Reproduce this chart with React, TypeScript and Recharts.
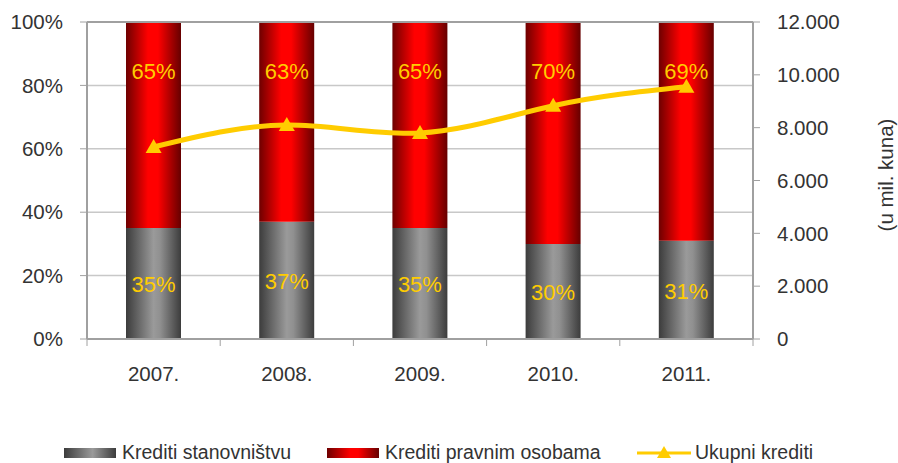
import { ComposedChart, Bar, Line, XAxis, YAxis, CartesianGrid, ReferenceLine, LabelList } from "recharts";

const years = ["2007.", "2008.", "2009.", "2010.", "2011."];
const stanovnistvo = [35, 37, 35, 30, 31];
const pravneOsobe = [65, 63, 65, 70, 69];
const ukupniKrediti = [7270, 8100, 7800, 8830, 9550];
const percentTicks = [0, 20, 40, 60, 80, 100];
const amountTicks = [0, 2000, 4000, 6000, 8000, 10000, 12000];

const data = years.map((year, i) => ({
  year,
  stanovnistvo: stanovnistvo[i],
  pravne: pravneOsobe[i],
  ukupno: ukupniKrediti[i],
}));

const FONT = '"Liberation Sans", Arial, sans-serif';
const W = 898;
const H = 463;
const PLOT_LEFT = 87;
const PLOT_RIGHT = 753;
const PLOT_BOTTOM = 339;
const BAND = (PLOT_RIGHT - PLOT_LEFT) / years.length;
const AXIS_GRAY = "#A0A0A0";
const YELLOW = "#FFCC00";

const formatAmount = (v: number) =>
  v >= 1000 ? `${Math.floor(v / 1000)}.${String(v % 1000).padStart(3, "0")}` : String(v);

const XTick = (props: any) => {
  const { x, payload, index } = props;
  return (
    <g>
      <line x1={x - BAND / 2} x2={x - BAND / 2} y1={PLOT_BOTTOM} y2={PLOT_BOTTOM + 7} stroke={AXIS_GRAY} />
      {index === years.length - 1 && (
        <line x1={x + BAND / 2} x2={x + BAND / 2} y1={PLOT_BOTTOM} y2={PLOT_BOTTOM + 7} stroke={AXIS_GRAY} />
      )}
      <text x={x} y={PLOT_BOTTOM + 42} textAnchor="middle" fill="#333" fontSize={20.5} fontFamily={FONT}>
        {payload.value}
      </text>
    </g>
  );
};

const Triangle = (props: any) => {
  const { cx, cy } = props;
  if (cx == null || cy == null) return null;
  return <polygon points={`${cx},${cy - 8} ${cx - 8},${cy + 6} ${cx + 8},${cy + 6}`} fill={YELLOW} />;
};

const GrayLabel = (props: any) => {
  const { x, y, width, height, value } = props;
  return (
    <text x={x + width / 2} y={y + height / 2 + 1} dy="0.35em" textAnchor="middle" fill={YELLOW} fontSize={22} fontFamily={FONT}>
      {value}%
    </text>
  );
};

const RedLabel = (props: any) => {
  const { x, y, width, value } = props;
  return (
    <text x={x + width / 2} y={y + 49} dy="0.35em" textAnchor="middle" fill={YELLOW} fontSize={22} fontFamily={FONT}>
      {value}%
    </text>
  );
};

const UnitLabel = () => (
  <text transform="translate(886,175) rotate(-90)" textAnchor="middle" dy="0.35em" fill="#333" fontSize={20.5} fontFamily={FONT}>
    (u mil. kuna)
  </text>
);

const legendText = { position: "absolute" as const, top: 442, fontSize: 19.5, fontFamily: FONT, color: "#333", lineHeight: "20px", whiteSpace: "nowrap" as const };

export default function App() {
  return (
    <div style={{ position: "absolute", left: 0, top: 0, width: W, height: H, background: "#fff", overflow: "hidden" }}>
      <ComposedChart width={W} height={H} data={data} margin={{ top: 22, right: 70, bottom: 80, left: 0 }}>
        <defs>
          <linearGradient id="grayGrad" x1="0" y1="0" x2="1" y2="0">
            <stop offset="0%" stopColor="#3c3c3c" />
            <stop offset="50%" stopColor="#9a9a9a" />
            <stop offset="62%" stopColor="#909090" />
            <stop offset="100%" stopColor="#3c3c3c" />
          </linearGradient>
          <linearGradient id="redGrad" x1="0" y1="0" x2="1" y2="0">
            <stop offset="0%" stopColor="#6e0000" />
            <stop offset="40%" stopColor="#ff0000" />
            <stop offset="58%" stopColor="#ff0000" />
            <stop offset="100%" stopColor="#660000" />
          </linearGradient>
        </defs>
        <CartesianGrid yAxisId="left" vertical={false} stroke="#C8C8C8" strokeWidth={1.5} />
        <XAxis dataKey="year" height={44} tickLine={false} tick={<XTick />} axisLine={{ stroke: AXIS_GRAY, strokeWidth: 2 }} interval={0} />
        <YAxis
          yAxisId="left"
          width={87}
          domain={[0, 100]}
          ticks={percentTicks}
          tickFormatter={(v) => `${v}%`}
          tickSize={7}
          tickMargin={17}
          tick={{ fill: "#333", fontSize: 20.5, fontFamily: FONT }}
          tickLine={{ stroke: AXIS_GRAY }}
          axisLine={{ stroke: AXIS_GRAY, strokeWidth: 2 }}
        />
        <YAxis
          yAxisId="right"
          orientation="right"
          width={75}
          domain={[0, 12000]}
          ticks={amountTicks}
          tickFormatter={formatAmount}
          tickSize={7}
          tickMargin={17}
          tick={{ fill: "#333", fontSize: 20.5, fontFamily: FONT }}
          tickLine={{ stroke: AXIS_GRAY }}
          axisLine={{ stroke: AXIS_GRAY, strokeWidth: 2 }}
          label={<UnitLabel />}
        />
        <ReferenceLine yAxisId="left" y={100} stroke={AXIS_GRAY} strokeWidth={2} />
        <Bar yAxisId="left" dataKey="stanovnistvo" stackId="a" barSize={55} fill="url(#grayGrad)" isAnimationActive={false}>
          <LabelList dataKey="stanovnistvo" content={<GrayLabel />} />
        </Bar>
        <Bar yAxisId="left" dataKey="pravne" stackId="a" barSize={55} fill="url(#redGrad)" isAnimationActive={false}>
          <LabelList dataKey="pravne" content={<RedLabel />} />
        </Bar>
        <Line
          yAxisId="right"
          dataKey="ukupno"
          type="natural"
          stroke={YELLOW}
          strokeWidth={5}
          dot={<Triangle />}
          activeDot={false}
          isAnimationActive={false}
        />
      </ComposedChart>

      <div style={{ position: "absolute", left: 64, top: 448, width: 52, height: 10, background: "linear-gradient(to right, #3c3c3c, #9a9a9a 55%, #3c3c3c)" }} />
      <div style={{ ...legendText, left: 122 }}>Krediti stanovništvu</div>
      <div style={{ position: "absolute", left: 327, top: 448, width: 52, height: 10, background: "linear-gradient(to right, #6e0000, #ff0000 45%, #ff0000 60%, #660000)" }} />
      <div style={{ ...legendText, left: 385 }}>Krediti pravnim osobama</div>
      <svg style={{ position: "absolute", left: 637, top: 443 }} width={56} height={20}>
        <line x1={0} x2={54} y1={10} y2={10} stroke={YELLOW} strokeWidth={3} />
        <polygon points="27,3 20,15 34,15" fill={YELLOW} />
      </svg>
      <div style={{ ...legendText, left: 695 }}>Ukupni krediti</div>
    </div>
  );
}
